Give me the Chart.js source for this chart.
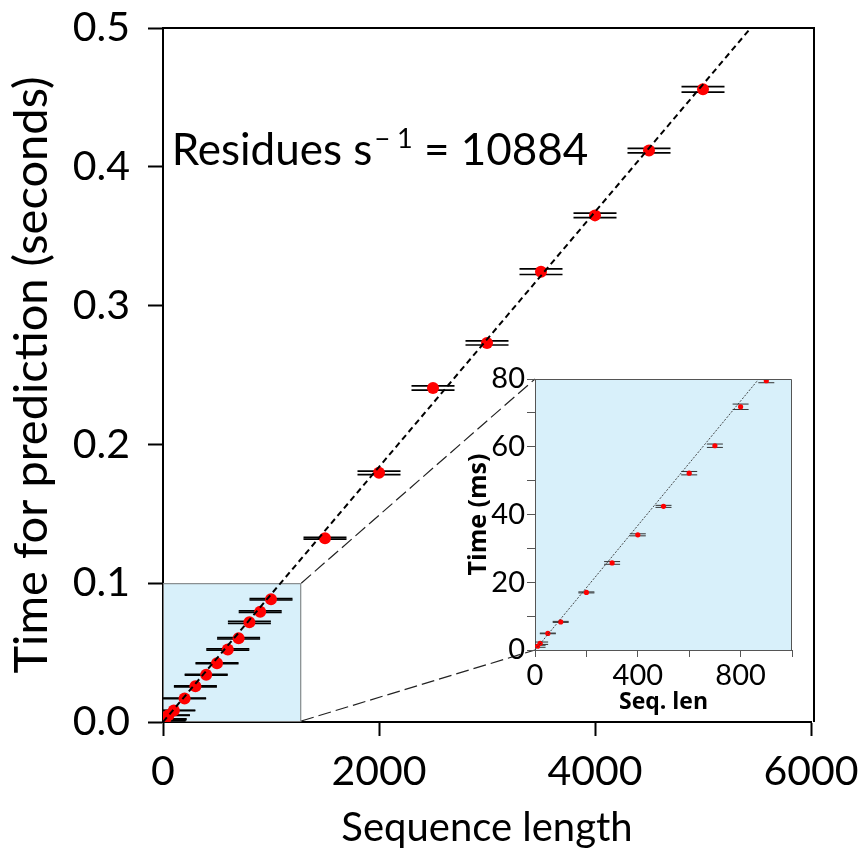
<!DOCTYPE html>
<html>
<head>
<meta charset="utf-8">
<script src="https://cdn.jsdelivr.net/npm/chart.js@4.4.1/dist/chart.umd.min.js"></script>
<style>
  html, body { margin: 0; padding: 0; background: #ffffff; }
  #wrap { position: relative; width: 860px; height: 852px; }
  #main { position: absolute; left: 0; top: 0; }
  #inset { position: absolute; left: 440px; top: 355px; }
</style>
</head>
<body>
<div id="wrap">
  <canvas id="main" width="860" height="852" style="width:860px;height:852px"></canvas>
  <canvas id="inset" width="370" height="365" style="width:370px;height:365px"></canvas>
</div>
<script>
// Benchmark: prediction time against sequence length
const seqLen  = [10, 20, 50, 100, 200, 300, 400, 500, 600, 700, 800, 900, 1000,
                 1500, 2000, 2500, 3000, 3500, 4000, 4500, 5000];
const timeSec = [0.0011, 0.0020, 0.0049, 0.0083, 0.0170, 0.0257, 0.0340, 0.0424, 0.0522,
                 0.0603, 0.0718, 0.0795, 0.0884, 0.1324, 0.1795, 0.2406, 0.2731, 0.3244,
                 0.3650, 0.4117, 0.4558];
const errMs   = [0.3, 0.35, 0.1, 0.15, 0.15, 0.4, 0.3, 0.3, 0.5, 0.5, 0.8, 0.6, 0.5,
                 0.6, 1.3, 1.5, 1.5, 2.0, 1.6, 1.6, 2.0];
const residuesPerSecond = 10884;

// Axis ticks
const mainXTicks  = [0, 2000, 4000, 6000];
const mainYTicks  = [0, 0.1, 0.2, 0.3, 0.4, 0.5];
const insetXTicks = [0, 200, 400, 600, 800, 1000];
const insetXLabels = [0, 400, 800];
const insetYTicks = [0, 10, 20, 30, 40, 50, 60, 70, 80];
const insetYLabels = [0, 20, 40, 60, 80];

// Zoomed region shown in the inset
const zoomLen = 1280;
const zoomTime = 0.1;
const insetMaxLen = 1000;
const insetMaxMs = 80;

const FONT = 'Lato, "Open Sans", sans-serif';
const BLUE = '#d8f0fa';

// keep the plot area fixed: no extra room for overhanging tick labels
function noOverhang(s) {
  s.paddingTop = 0; s.paddingBottom = 0; s.paddingLeft = 0; s.paddingRight = 0;
}

// vertical error bars drawn as caps only (the whiskers are shorter than the caps' spacing)
function drawCaps(chart, xs, ys, errs, half, color, width) {
  const {ctx, chartArea: a, scales: {x, y}} = chart;
  ctx.save();
  ctx.beginPath();
  ctx.rect(a.left, a.top, a.right - a.left, a.bottom - a.top);
  ctx.clip();
  ctx.strokeStyle = color;
  ctx.lineWidth = width;
  for (let i = 0; i < xs.length; i++) {
    const px = x.getPixelForValue(xs[i]);
    for (const s of [-1, 1]) {
      const py = y.getPixelForValue(ys[i] + s * errs[i]);
      ctx.beginPath();
      ctx.moveTo(px - half, py);
      ctx.lineTo(px + half, py);
      ctx.stroke();
    }
  }
  ctx.restore();
}

// ---------- inset (first 1000 residues, in ms) ----------
const inIdx = seqLen.map((v, i) => i).filter(i => seqLen[i] <= insetMaxLen);
const inX = inIdx.map(i => seqLen[i]);
const inY = inIdx.map(i => timeSec[i] * 1000);
const inE = inIdx.map(i => errMs[i]);

const insetPlugin = {
  id: 'insetDecor',
  beforeDraw(chart) {
    const {ctx, chartArea: a} = chart;
    ctx.save();
    ctx.fillStyle = BLUE;
    ctx.fillRect(a.left, a.top, a.right - a.left, a.bottom - a.top);
    ctx.restore();
  },
  beforeDatasetsDraw(chart) {
    drawCaps(chart, inX, inY, inE, 8, '#333333', 1);
  },
  afterDraw(chart) {
    const {ctx, chartArea: a} = chart;
    ctx.save();
    ctx.strokeStyle = '#555555';
    ctx.lineWidth = 1;
    ctx.beginPath();
    ctx.moveTo(a.left, a.top + 0.5);
    ctx.lineTo(a.right - 0.5, a.top + 0.5);
    ctx.lineTo(a.right - 0.5, a.bottom);
    ctx.stroke();
    ctx.restore();
  }
};

const insetChart = new Chart(document.getElementById('inset'), {
  type: 'scatter',
  data: {
    datasets: [
      {
        type: 'line',
        data: [{x: 0, y: 0}, {x: insetMaxMs / 1000 * residuesPerSecond, y: insetMaxMs}],
        borderColor: '#333333', borderWidth: 0.9, borderDash: [2, 1.5],
        pointRadius: 0, fill: false, order: 0
      },
      {
        data: inX.map((v, i) => ({x: v, y: inY[i]})),
        backgroundColor: '#ff0000', borderWidth: 0, pointRadius: 2.6, order: 1
      }
    ]
  },
  options: {
    responsive: false, animation: false, devicePixelRatio: 1,
    layout: {padding: {top: 24, right: 18, left: 0, bottom: 0}},
    plugins: {legend: {display: false}, tooltip: {enabled: false}},
    scales: {
      x: {
        type: 'linear', min: 0, max: insetMaxLen,
        afterBuildTicks: s => { s.ticks = insetXTicks.map(v => ({value: v})); },
        afterFit: s => { s.height = 70; noOverhang(s); },
        ticks: {
          callback: v => insetXLabels.includes(v) ? String(v) : '',
          font: {family: FONT, size: 29}, color: '#000', padding: 1, maxRotation: 0, autoSkip: false
        },
        grid: {drawOnChartArea: false, tickLength: 7, tickWidth: 1, tickColor: '#555555'},
        border: {color: '#555555', width: 1},
        title: {display: true, text: 'Seq. len', color: '#000',
                font: {family: '"Open Sans", sans-serif', size: 23, weight: 'bold'},
                padding: {top: 0, bottom: 4}}
      },
      y: {
        type: 'linear', min: 0, max: insetMaxMs,
        afterBuildTicks: s => { s.ticks = insetYTicks.map(v => ({value: v})); },
        afterFit: s => { s.width = 95; noOverhang(s); },
        ticks: {
          callback: v => insetYLabels.includes(v) ? String(v) : '',
          font: {family: FONT, size: 29}, color: '#000', padding: 2, autoSkip: false
        },
        grid: {drawOnChartArea: false, tickLength: 8, tickWidth: 1, tickColor: '#555555'},
        border: {color: '#555555', width: 1},
        title: {display: true, text: 'Time (ms)', color: '#000',
                font: {family: '"Open Sans", sans-serif', size: 25, weight: 'bold'},
                padding: {top: 24, bottom: 0}}
      }
    }
  },
  plugins: [insetPlugin]
});

// ---------- main plot ----------
const mainPlugin = {
  id: 'mainDecor',
  beforeDatasetsDraw(chart) {
    const {ctx, scales: {x, y}} = chart;
    // zoom window
    const x0 = x.getPixelForValue(0), x1 = x.getPixelForValue(zoomLen);
    const y0 = y.getPixelForValue(0), y1 = y.getPixelForValue(zoomTime);
    ctx.save();
    ctx.fillStyle = BLUE;
    ctx.fillRect(x0, y1, x1 - x0, y0 - y1);
    ctx.strokeStyle = '#777777';
    ctx.lineWidth = 1;
    ctx.strokeRect(x0 + 0.5, y1 + 0.5, x1 - x0 - 1, y0 - y1 - 1);
    ctx.restore();
    drawCaps(chart, seqLen, timeSec, errMs.map(e => e / 1000), 21.5, '#000000', 1.7);
  },
  afterDraw(chart) {
    const {ctx, chartArea: a, scales: {x, y}} = chart;
    ctx.save();
    // frame top and right
    ctx.strokeStyle = '#000';
    ctx.lineWidth = 2;
    ctx.beginPath();
    ctx.moveTo(a.left, a.top);
    ctx.lineTo(a.right + 3, a.top);
    ctx.lineTo(a.right + 3, a.bottom);
    ctx.stroke();

    // connectors from zoom window to inset
    const cv = insetChart.canvas, ia = insetChart.chartArea;
    const ox = cv.offsetLeft, oy = cv.offsetTop;
    ctx.strokeStyle = '#222222';
    ctx.lineWidth = 1.2;
    ctx.setLineDash([13, 5]);
    ctx.beginPath();
    ctx.moveTo(x.getPixelForValue(zoomLen), y.getPixelForValue(zoomTime));
    ctx.lineTo(ox + ia.left, oy + ia.top);
    ctx.moveTo(x.getPixelForValue(zoomLen), y.getPixelForValue(0) - 1);
    ctx.lineTo(ox + ia.left, oy + ia.bottom);
    ctx.stroke();
    ctx.setLineDash([]);

    // throughput annotation
    let tx = x.getPixelForValue(80);
    const ty = y.getPixelForValue(0.401);
    ctx.fillStyle = '#000';
    ctx.textBaseline = 'alphabetic';
    ctx.textAlign = 'left';
    ctx.font = '44px ' + FONT;
    ctx.fillText('Residues s', tx, ty);
    tx += ctx.measureText('Residues s').width + 2;
    ctx.font = '27px ' + FONT;
    ctx.fillText('\u2212', tx, ty - 17);
    tx += ctx.measureText('\u2212').width + 7;
    ctx.fillText('1', tx, ty - 17);
    tx += ctx.measureText('1').width;
    ctx.font = '44px ' + FONT;
    ctx.fillText(' = 10884', tx, ty);
    ctx.restore();
  }
};

new Chart(document.getElementById('main'), {
  type: 'scatter',
  data: {
    datasets: [
      {
        type: 'line',
        data: [{x: 0, y: 0}, {x: 0.5 * residuesPerSecond, y: 0.5}],
        borderColor: '#000000', borderWidth: 2, borderDash: [6, 4],
        pointRadius: 0, fill: false, order: 0
      },
      {
        data: seqLen.map((v, i) => ({x: v, y: timeSec[i]})),
        backgroundColor: '#ff0000', borderWidth: 0, pointRadius: 6, order: 1
      }
    ]
  },
  options: {
    responsive: false, animation: false, devicePixelRatio: 1,
    layout: {padding: {top: 28, right: 49, left: 0, bottom: 0}},
    plugins: {legend: {display: false}, tooltip: {enabled: false}},
    scales: {
      x: {
        type: 'linear', min: 0, max: 6000,
        afterBuildTicks: s => { s.ticks = mainXTicks.map(v => ({value: v})); },
        afterFit: s => { s.height = 130; noOverhang(s); },
        ticks: {font: {family: FONT, size: 41}, color: '#000', padding: 11, maxRotation: 0,
                autoSkip: false, callback: v => String(v)},
        grid: {drawOnChartArea: false, tickLength: 14, tickWidth: 2, tickColor: '#000'},
        border: {color: '#000', width: 2},
        title: {display: true, text: 'Sequence length', color: '#000',
                font: {family: FONT, size: 40}, padding: {top: 0, bottom: 0}}
      },
      y: {
        type: 'linear', min: 0, max: 0.5,
        afterBuildTicks: s => { s.ticks = mainYTicks.map(v => ({value: v})); },
        afterFit: s => { s.width = 163; noOverhang(s); },
        ticks: {font: {family: FONT, size: 41}, color: '#000', padding: 18,
                autoSkip: false, callback: v => v.toFixed(1)},
        grid: {drawOnChartArea: false, tickLength: 15, tickWidth: 2, tickColor: '#000'},
        border: {color: '#000', width: 2},
        title: {display: true, text: 'Time for prediction (seconds)', color: '#000',
                font: {family: FONT, size: 47}, padding: {top: 4, bottom: 0}}
      }
    }
  },
  plugins: [mainPlugin]
});
</script>
</body>
</html>
